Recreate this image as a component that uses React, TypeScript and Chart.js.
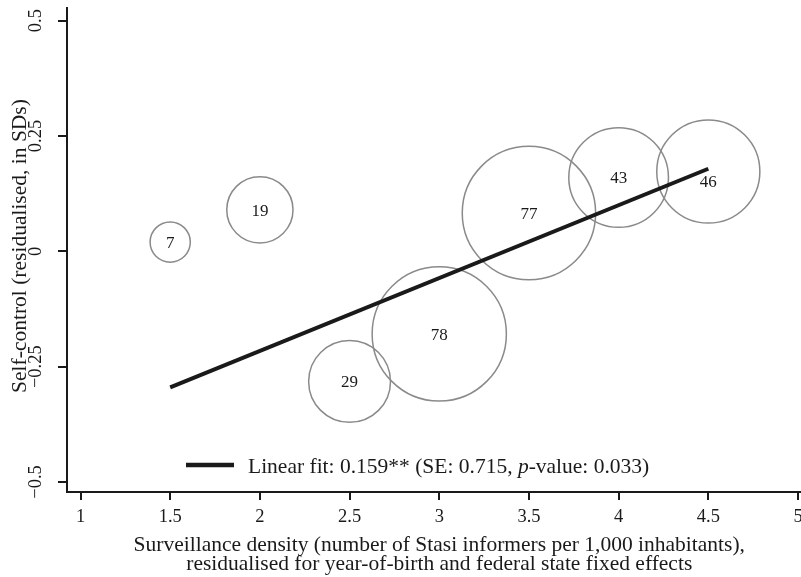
import React, { useEffect, useRef } from 'react';
import { Chart, registerables } from 'chart.js';

Chart.register(...registerables);

// ---- data ----
const xValues = [1.5, 2, 2.5, 3, 3.5, 4, 4.5];
const yValues = [0.02, 0.09, -0.282, -0.179, 0.083, 0.16, 0.173];
const counts = [7, 19, 29, 78, 77, 43, 46];
const fitX = [1.5, 4.5];
const fitY = [-0.295, 0.179];
const xTicks = [1, 1.5, 2, 2.5, 3, 3.5, 4, 4.5, 5];
const xTickLabels = ['1', '1.5', '2', '2.5', '3', '3.5', '4', '4.5', '5'];
const yTicks = [-0.5, -0.25, 0, 0.25, 0.5];
const yTickLabels = ['\u22120.5', '\u22120.25', '0', '0.25', '0.5'];
const xTitleLines = [
  'Surveillance density (number of Stasi informers per 1,000 inhabitants),',
  'residualised for year-of-birth and federal state fixed effects',
];
const yTitle = 'Self-control (residualised, in SDs)';
const legendBefore = 'Linear fit: 0.159** (SE: 0.715, ';
const legendItalic = 'p';
const legendAfter = '-value: 0.033)';

// ---- styles ----
const SERIF = '"Liberation Serif", "Times New Roman", serif';
const INK = '#1a1a1a';
const BUBBLE_COLOR = '#8a8a8a';
const BUBBLE_SCALE = 7.6;
const labelDy = [0, 0, 0, 0, 0, 0, 10];

const textPlugin = {
  id: 'customTexts',
  afterDatasetsDraw(chart: any) {
    const ctx = chart.ctx;
    const meta = chart.getDatasetMeta(0);
    ctx.save();
    ctx.fillStyle = INK;
    ctx.font = `17px ${SERIF}`;
    ctx.textAlign = 'center';
    ctx.textBaseline = 'alphabetic';
    meta.data.forEach((el: any, i: number) => {
      ctx.fillText(String(counts[i]), el.x, el.y + 5.8 + labelDy[i]);
    });
    ctx.restore();
  },
  afterDraw(chart: any) {
    const ctx = chart.ctx;
    const xs = chart.scales.x;
    const ys = chart.scales.y;
    const ca = chart.chartArea;
    ctx.save();
    ctx.fillStyle = INK;
    ctx.textBaseline = 'alphabetic';

    // x tick labels
    ctx.font = `18.5px ${SERIF}`;
    ctx.textAlign = 'center';
    xTicks.forEach((v, i) => {
      ctx.fillText(xTickLabels[i], xs.getPixelForValue(v), ca.bottom + 30);
    });

    // y tick labels (rotated)
    yTicks.forEach((v, i) => {
      ctx.save();
      ctx.translate(ca.left - 26, ys.getPixelForValue(v));
      ctx.rotate(-Math.PI / 2);
      ctx.textAlign = 'center';
      ctx.fillText(yTickLabels[i], 0, 0);
      ctx.restore();
    });

    // y title
    ctx.font = `21.5px ${SERIF}`;
    ctx.save();
    ctx.translate(ca.left - 41, (ca.top + ca.bottom) / 2 - 4);
    ctx.rotate(-Math.PI / 2);
    ctx.textAlign = 'center';
    ctx.fillText(yTitle, 0, 0);
    ctx.restore();

    // x title
    ctx.textAlign = 'center';
    const cx = xs.getPixelForValue(3);
    ctx.fillText(xTitleLines[0], cx, ca.bottom + 59);
    ctx.fillText(xTitleLines[1], cx, ca.bottom + 78);

    // legend
    const ly = ca.bottom - 27;
    ctx.strokeStyle = INK;
    ctx.lineWidth = 4.5;
    ctx.beginPath();
    ctx.moveTo(186, ly);
    ctx.lineTo(234, ly);
    ctx.stroke();
    ctx.textAlign = 'left';
    let tx = 248;
    const tb = ly + 8;
    ctx.font = `21.5px ${SERIF}`;
    ctx.fillText(legendBefore, tx, tb);
    tx += ctx.measureText(legendBefore).width;
    ctx.font = `italic 21.5px ${SERIF}`;
    ctx.fillText(legendItalic, tx, tb);
    tx += ctx.measureText(legendItalic).width;
    ctx.font = `21.5px ${SERIF}`;
    ctx.fillText(legendAfter, tx, tb);
    ctx.restore();
  },
};

export default function App() {
  const canvasRef = useRef<HTMLCanvasElement | null>(null);

  useEffect(() => {
    const canvas = canvasRef.current;
    if (!canvas) return;
    const chart = new Chart(canvas, {
      type: 'bubble',
      data: {
        datasets: [
          {
            type: 'bubble',
            data: xValues.map((x, i) => ({ x, y: yValues[i], r: BUBBLE_SCALE * Math.sqrt(counts[i]) })),
            backgroundColor: 'rgba(0,0,0,0)',
            borderColor: BUBBLE_COLOR,
            borderWidth: 1.5,
            hoverBorderWidth: 1.5,
            clip: false,
            order: 2,
          } as any,
          {
            type: 'line',
            data: fitX.map((x, i) => ({ x, y: fitY[i] })),
            borderColor: INK,
            borderWidth: 4,
            pointRadius: 0,
            fill: false,
            clip: false,
            order: 1,
          } as any,
        ],
      },
      options: {
        animation: false,
        responsive: false,
        devicePixelRatio: 1,
        events: [],
        layout: { autoPadding: false, padding: { left: 0, right: 0, top: 8, bottom: 0 } },
        plugins: { legend: { display: false }, tooltip: { enabled: false } },
        scales: {
          x: {
            type: 'linear',
            position: 'bottom',
            min: 0.9247,
            max: 5.0167,
            border: { display: true, color: INK, width: 2 },
            grid: { display: true, drawOnChartArea: false, drawTicks: true, tickLength: 8, color: INK, tickColor: INK, lineWidth: 2 },
            ticks: { display: false },
            afterBuildTicks: (s: any) => { s.ticks = xTicks.map((v) => ({ value: v })); },
            afterFit: (s: any) => { s.height = 85; },
          },
          y: {
            type: 'linear',
            position: 'left',
            min: -0.5217,
            max: 0.5275,
            border: { display: true, color: INK, width: 2 },
            grid: { display: true, drawOnChartArea: false, drawTicks: true, tickLength: 9, color: INK, tickColor: INK, lineWidth: 2 },
            ticks: { display: false },
            afterBuildTicks: (s: any) => { s.ticks = yTicks.map((v) => ({ value: v })); },
            afterFit: (s: any) => { s.width = 67; },
          },
        },
      } as any,
      plugins: [textPlugin],
    });
    return () => chart.destroy();
  }, []);

  return (
    <div style={{ position: 'fixed', left: 0, top: 0, width: 801, height: 577, background: '#fff' }}>
      <canvas ref={canvasRef} width={801} height={577} style={{ display: 'block', width: 801, height: 577 }} />
    </div>
  );
}
